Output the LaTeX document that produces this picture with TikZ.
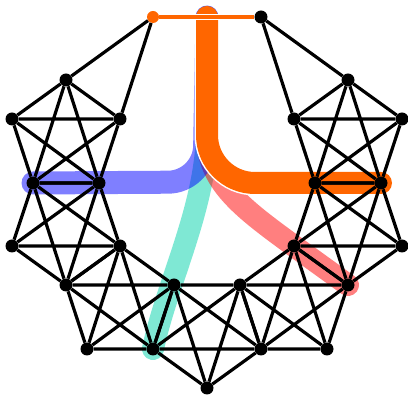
\documentclass[tikz,border=0pt]{standalone}
\usetikzlibrary{backgrounds}

\definecolor{routeorange}{RGB}{255,102,0}
\definecolor{routeteal}{RGB}{0,210,170}

\tikzset{
    vertex/.style={circle, fill=black, inner sep=0pt, minimum size=13pt},
    link/.style={line width=3.2pt, black},
    route/.style={line width=22pt, line cap=round, opacity=0.5},
}

\begin{document}
\begin{tikzpicture}[x=1pt, y=-1pt]
    \useasboundingbox (0,0) rectangle (408,395);

    % top pair
    \node[vertex, fill=routeorange, minimum size=12pt] (a) at (153,17) {};
    \node[vertex] (b) at (261,17) {};
    \coordinate (m) at (207,17);

    % left side
    \node[vertex] (p1) at (66,80) {};
    \node[vertex] (p2) at (12,119) {};
    \node[vertex] (p3) at (120,119) {};
    \node[vertex] (p4) at (33,183) {};
    \node[vertex] (p5) at (99,183) {};
    \node[vertex] (p6) at (12,246) {};
    \node[vertex] (p7) at (120,246) {};
    \node[vertex] (p8) at (66,285) {};
    \node[vertex] (p9) at (174,285) {};
    \node[vertex] (p10) at (87,349) {};
    \node[vertex] (p11) at (153,349) {};

    % bottom
    \node[vertex] (p12) at (240,285) {};
    \node[vertex] (p13) at (261,349) {};
    \node[vertex] (p14) at (207,388) {};

    % right side
    \node[vertex] (p15) at (294,246) {};
    \node[vertex] (p16) at (348,285) {};
    \node[vertex] (p17) at (327,349) {};
    \node[vertex] (p18) at (315,183) {};
    \node[vertex] (p19) at (381,183) {};
    \node[vertex] (p20) at (402,246) {};
    \node[vertex] (p21) at (348,80) {};
    \node[vertex] (p22) at (294,119) {};
    \node[vertex] (p23) at (402,119) {};

    % the five-cliques
    \draw[link] (p1) -- (p2) -- (p3) -- (p4) -- (p5) -- (p1) -- (p3) -- (p5) -- (p2) -- (p4) -- (p1);
    \draw[link] (p4) -- (p5) -- (p6) -- (p7) -- (p8) -- (p4) -- (p6) -- (p8) -- (p5) -- (p7) -- (p4);
    \draw[link] (p7) -- (p8) -- (p9) -- (p10) -- (p11) -- (p7) -- (p9) -- (p11) -- (p8) -- (p10) -- (p7);
    \draw[link] (p9) -- (p12) -- (p11) -- (p13) -- (p14) -- (p9) -- (p11) -- (p14) -- (p12) -- (p13) -- (p9);
    \draw[link] (p15) -- (p12) -- (p16) -- (p13) -- (p17) -- (p15) -- (p16) -- (p17) -- (p12) -- (p13) -- (p15);
    \draw[link] (p18) -- (p19) -- (p15) -- (p20) -- (p16) -- (p18) -- (p15) -- (p16) -- (p19) -- (p20) -- (p18);
    \draw[link] (p21) -- (p22) -- (p23) -- (p18) -- (p19) -- (p21) -- (p23) -- (p19) -- (p22) -- (p18) -- (p21);

    % links to the top pair
    \draw[link] (a) -- (p1);
    \draw[link] (a) -- (p3);
    \draw[link] (b) -- (p21);
    \draw[link] (b) -- (p22);
    \draw[line width=4.5pt, routeorange, preaction={draw=white, line width=6.5pt}] (a) -- (b);

    % highlighted routes
    \begin{pgfonlayer}{background}
        \draw[route, routeteal] (m) -- (206,150) .. controls (200,220) and (165,290) .. (p11.center);
        \draw[route, red] (m) -- (207,140) .. controls (210,185) and (245,210) .. (p15.center) -- (p16.center);
        \draw[route, blue, line width=23pt, rounded corners=36pt] (m) -- (204,182) -- (p4.center);
        \draw[line width=22pt, routeorange, line cap=round, rounded corners=48pt,
              preaction={draw=white, line width=25pt}] (m) |- (p19.center);
    \end{pgfonlayer}
\end{tikzpicture}
\end{document}
